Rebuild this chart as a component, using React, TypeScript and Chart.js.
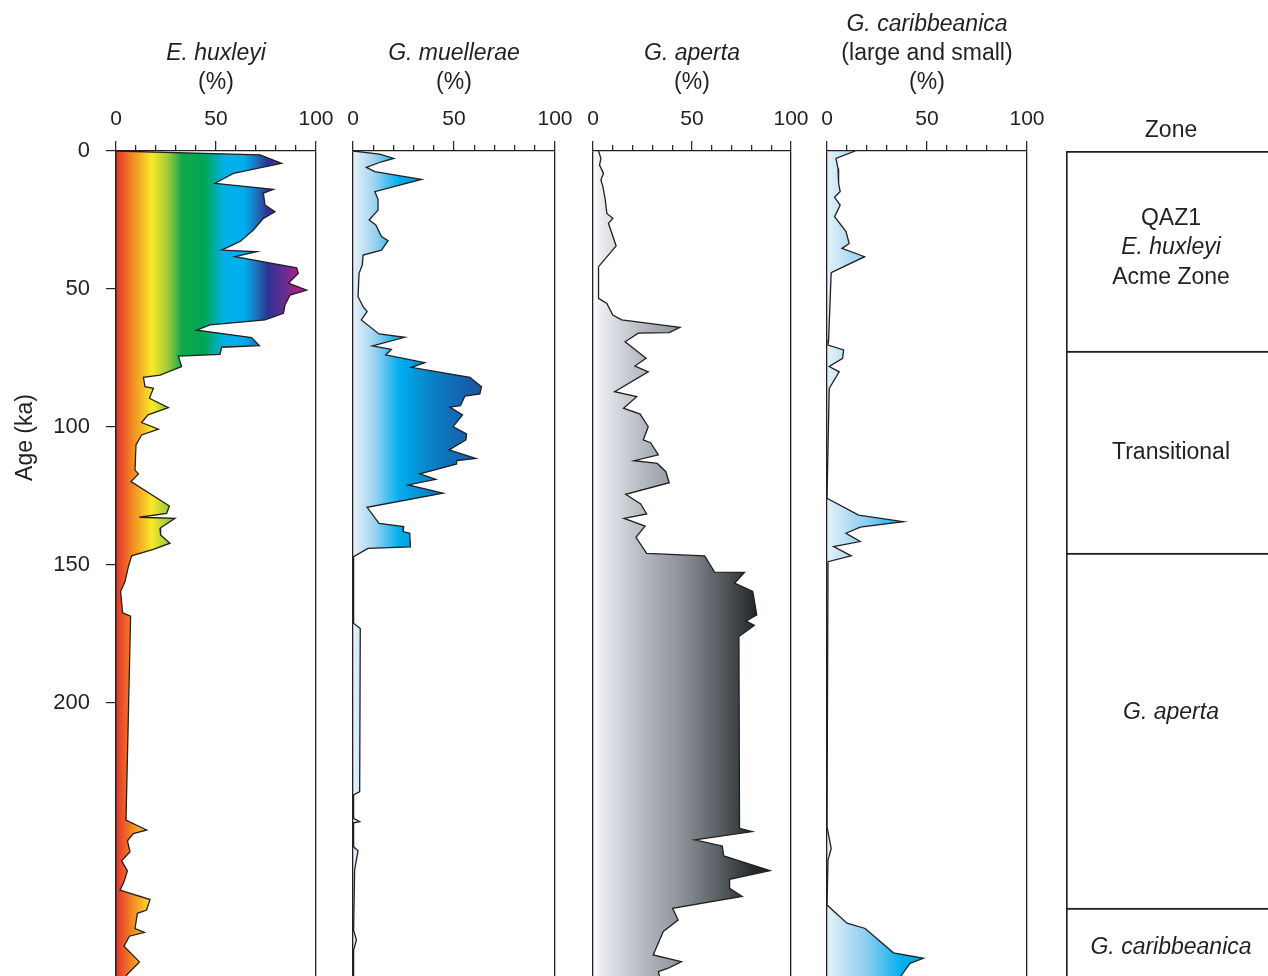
import React, { useEffect, useRef } from 'react';
import { Chart, registerables } from 'chart.js';

Chart.register(...registerables);

const FONT = '"Liberation Sans", Arial, Helvetica, sans-serif';
const INK = '#231f20';

// ---------- axis values ----------
const ageMin = 0;
const ageMax = 300;
const ageTickValues = [0, 50, 100, 150, 200];
const pctMin = 0;
const pctMax = 100;
const pctStep = 10;
const pctLabelValues = [0, 50, 100];

// ---------- E. huxleyi ----------
const huxleyiAge = [0, 1.4, 4.5, 8.1, 11.7, 13.9, 15.3, 19.6, 22, 24.4, 28.6, 32.8, 35.9, 36.5, 38.3, 42.3, 44.3, 47.9, 50.4, 52.2, 55.8, 58.8, 61.2, 63, 64.9, 67.6, 70.5, 71.1, 73.7, 74.3, 78.1, 81.2, 82, 85.4, 86, 89.6, 93, 95.6, 98.4, 100.8, 102.9, 106.5, 115.6, 117, 119.8, 128.6, 131.3, 132.7, 133.1, 136.7, 139.1, 142.1, 144.3, 146.7, 150.6, 156, 159.6, 167.3, 168.5, 242.4, 246, 247.3, 249.9, 253.9, 257.2, 260.8, 264.8, 267.8, 271.2, 275, 276.2, 281.7, 283.1, 284.5, 288.1, 293.8, 298.6, 300];
const huxleyiPct = [0, 72, 82.8, 58.7, 49.5, 78.7, 73.7, 74.5, 79.5, 73.7, 68.7, 62, 52.8, 70.3, 59.5, 90.3, 91.2, 86.2, 95.3, 87, 84.5, 83.7, 74.5, 47, 40.3, 67.8, 71.7, 52.8, 52, 31.2, 32.8, 22, 13.7, 14.5, 18.7, 16.7, 26.2, 16, 12.8, 21.2, 12.8, 10, 9.5, 11.2, 7.5, 26.7, 25.3, 11.7, 29.5, 22, 22.3, 27, 18.7, 7.8, 6.2, 4.5, 2.3, 3.3, 7.3, 5, 15.3, 8.7, 5.7, 7, 2.8, 5.7, 4, 2, 17, 15.3, 10.7, 9.5, 14.2, 6.7, 4, 11.7, 5.3, 4.5];

// ---------- G. muellerae ----------
const muelleraeAge = [0, 1.1, 2.7, 3.9, 5.9, 7.5, 10.3, 14.7, 17.5, 21.4, 25, 26.8, 31, 32.5, 35.9, 37.7, 41.3, 44.3, 52.8, 56.4, 58.2, 61.2, 66.3, 67.5, 70.6, 71.9, 73.9, 76.7, 78.4, 82, 85.4, 88, 88.8, 92.3, 92.8, 95.6, 99.9, 102.5, 104.7, 108.3, 111.4, 112.2, 113.4, 117, 119, 121, 124, 129.1, 134.9, 136.1, 137.9, 138.5, 143.4, 144, 147, 171.1, 173, 232.1, 233.3, 241.8, 243, 243.4, 252.1, 253.5, 260.5, 282.3, 285.9, 289.5, 300];
const muelleraePct = [0, 13.2, 20.2, 14.1, 6.6, 10.8, 33.9, 10.8, 12.4, 12.4, 8, 11.3, 14.1, 17.4, 14.1, 5, 4.6, 3, 2.5, 5, 7, 4.1, 12.9, 25.6, 9.6, 19, 16.2, 35.5, 28.9, 57.9, 63.6, 62.8, 55.4, 53.2, 47.9, 54.2, 49.6, 56.2, 55.9, 47.6, 60.8, 51.3, 51.3, 33.1, 41, 27.3, 44.6, 7, 12.9, 25.1, 24.8, 28.1, 28.4, 7.4, 0.3, 0.3, 3.6, 3.3, 0.3, 0.3, 3.3, 0.3, 0.3, 2.5, 0.8, 0.3, 1.7, 0.3, 0.3];

// ---------- G. aperta ----------
const apertaAge = [0, 2.7, 5.1, 8.1, 10.5, 12.9, 17.7, 22.6, 24.4, 26.2, 34.4, 41.9, 53.4, 55.2, 59.4, 61.2, 63.9, 65.8, 66, 69.1, 75.1, 77.9, 80, 87.2, 89, 93.2, 95.3, 99.9, 104.7, 105.7, 110.1, 112.2, 113.2, 116.2, 120.2, 124.4, 127.9, 131.5, 133.1, 135.9, 140, 145.8, 146.7, 152.6, 152.7, 156.6, 159.6, 168.1, 170.3, 171.9, 175.9, 245.4, 246.6, 249.6, 251.8, 255.4, 260.7, 263.9, 267.1, 270.1, 274.4, 278.6, 282.8, 291.3, 293.7, 296.1, 297.3, 300];
const apertaPct = [2.8, 4, 3.3, 5.3, 4, 5, 6.2, 7, 10, 7.8, 11.7, 2.8, 2.8, 7, 10, 14.5, 43.9, 38.5, 22.9, 16.2, 26.8, 21.2, 27.9, 10.9, 22.1, 15.4, 23.8, 27.9, 25.4, 29.1, 33, 20.7, 32.5, 36.8, 38.5, 16.5, 24.1, 27.1, 15.7, 26.3, 21.7, 27.1, 56.4, 61.4, 76.5, 71.5, 80.7, 82.7, 77.4, 81.5, 73.7, 74, 80.4, 51.4, 65.3, 66, 89.4, 69, 69, 75.3, 40.2, 43, 35.5, 30.4, 44.7, 38, 33, 34];

// ---------- G. caribbeanica ----------
const caribAge = [0, 2.7, 6.3, 11.7, 14.7, 16.8, 19.6, 23.8, 29.2, 33.5, 35.3, 38.3, 44.1, 68.5, 70.3, 72.1, 75.1, 78.1, 80, 86, 125.8, 131.9, 134.3, 136.3, 138.5, 141.5, 143.3, 146.7, 148.8, 244.8, 252.7, 256.9, 273.2, 279.8, 281.7, 290.5, 292.5, 294.3, 298.9, 300];
const caribPct = [14.1, 4.5, 5.5, 5.8, 6.6, 3.8, 6.6, 3.8, 9.5, 11.1, 7.5, 18.8, 2.1, 0.8, 0.5, 8.3, 7.8, 1.1, 6.1, 1.1, 0, 15.8, 38.2, 16.6, 9.5, 16.6, 3.3, 12.1, 0.5, 0, 2.1, 0.5, 0, 10, 19.1, 33.2, 48.2, 41.5, 37, 36];

// ---------- titles ----------
const huxleyiTitle: [string, boolean][] = [['E. huxleyi', true], ['(%)', false]];
const muelleraeTitle: [string, boolean][] = [['G. muellerae', true], ['(%)', false]];
const apertaTitle: [string, boolean][] = [['G. aperta', true], ['(%)', false]];
const caribTitle: [string, boolean][] = [['G. caribbeanica', true], ['(large and small)', false], ['(%)', false]];
const ageTitle = 'Age (ka)';
const ageTitleAge = 103.8;

// ---------- zones ----------
const zoneHeader = 'Zone';
const zoneTops = [0, 72.5, 145.7, 274.3];
const zoneBottoms = [72.5, 145.7, 274.3, 300];
const zoneLabelAges = [35.1, 109.4, 203.6, 288.8];
const zoneLabels: [string, boolean][][] = [
  [['QAZ1', false], ['E. huxleyi', true], ['Acme Zone', false]],
  [['Transitional', false]],
  [['G. aperta', true]],
  [['G. caribbeanica', true]],
];

// ---------- colour ramps ----------
const huxleyiStops: [number, string][] = [
  [0, '#e4322b'], [0.09, '#f39222'], [0.18, '#f8e92a'], [0.26, '#9dca3c'], [0.33, '#10a84f'],
  [0.44, '#00a651'], [0.54, '#00b0e8'], [0.64, '#00aeef'], [0.7, '#1b75bb'], [0.76, '#2e3192'],
  [0.84, '#662d91'], [0.93, '#c41a8c'], [1, '#d4148b'],
];
const muelleraeStops: [number, string][] = [
  [0, '#e6f2f9'], [0.1, '#a3d5f0'], [0.23, '#00aeef'], [0.4, '#0a7fc4'], [0.62, '#1b55a2'], [1, '#1b4595'],
];
const apertaStops: [number, string][] = [
  [0, '#fbfcfd'], [0.06, '#e4e7eb'], [0.24, '#b8bcc3'], [0.45, '#8b9198'], [0.65, '#545b5e'], [0.82, '#232828'], [1, '#1a1d1d'],
];
const caribStops: [number, string][] = [
  [0, '#e4f1f9'], [0.2, '#8ccdef'], [0.38, '#00aeef'], [1, '#0090d0'],
];

// ---------- layout ----------
const CANVAS_H = 1019;
const PLOT_TOP = 151;
const PAD_BOTTOM = 40;
const PAD_RIGHT = 32;
const TITLE_LAST_Y = 83;
const TITLE_STEP = 29;
const TEXT_SIZE = 23;

type Panel = {
  ages: number[];
  pct: number[];
  title: [string, boolean][];
  stops: [number, string][];
  canvasX: number;
  plotW: number;
  showAge: boolean;
};

const panels: Panel[] = [
  { ages: huxleyiAge, pct: huxleyiPct, title: huxleyiTitle, stops: huxleyiStops, canvasX: 0, plotW: 200, showAge: true },
  { ages: muelleraeAge, pct: muelleraePct, title: muelleraeTitle, stops: muelleraeStops, canvasX: 333, plotW: 202, showAge: false },
  { ages: apertaAge, pct: apertaPct, title: apertaTitle, stops: apertaStops, canvasX: 573, plotW: 198, showAge: false },
  { ages: caribAge, pct: caribPct, title: caribTitle, stops: caribStops, canvasX: 807, plotW: 200, showAge: false },
];
const Y_AXIS_W = 116;
const PAD_LEFT = 20;
const canvasWidth = (p: Panel) => (p.showAge ? Y_AXIS_W : PAD_LEFT) + p.plotW + PAD_RIGHT;

const ZONE_X = 1066;
const ZONE_W = 260;

function gradientFor(chart: any, stops: [number, string][]) {
  const area = chart.chartArea;
  if (!area) return 'rgba(0,0,0,0)';
  const xs = chart.scales.x;
  const g = chart.ctx.createLinearGradient(xs.getPixelForValue(pctMin), 0, xs.getPixelForValue(pctMax), 0);
  stops.forEach(([o, c]) => g.addColorStop(o, c));
  return g;
}

function headerPlugin(lines: [string, boolean][], withAgeTitle: boolean) {
  return {
    id: 'headerText',
    afterDraw(chart: any) {
      const { ctx, chartArea, scales } = chart;
      const cx = (chartArea.left + chartArea.right) / 2;
      ctx.save();
      ctx.fillStyle = INK;
      ctx.textAlign = 'center';
      ctx.textBaseline = 'middle';
      const n = lines.length;
      lines.forEach(([text, italic], i) => {
        ctx.font = `${italic ? 'italic ' : ''}${TEXT_SIZE}px ${FONT}`;
        ctx.fillText(text, cx, TITLE_LAST_Y - (n - 1 - i) * TITLE_STEP);
      });
      if (withAgeTitle) {
        const ty = scales.y.getPixelForValue(ageTitleAge);
        ctx.translate(26, ty);
        ctx.rotate(-Math.PI / 2);
        ctx.font = `${TEXT_SIZE}px ${FONT}`;
        ctx.fillText(ageTitle, 0, 0);
      }
      ctx.restore();
    },
  };
}

const isMajor = (c: any) => c.tick && pctLabelValues.includes(c.tick.value);

function makePanel(canvas: HTMLCanvasElement, p: Panel) {
  const data = p.ages.map((a, i) => ({ x: p.pct[i], y: a }));
  const yScale: any = {
    type: 'linear',
    reverse: true,
    min: ageMin,
    max: ageMax,
    display: p.showAge,
    afterBuildTicks: (s: any) => {
      s.ticks = ageTickValues.map((v) => ({ value: v }));
    },
    ticks: { color: INK, padding: 16, font: { family: FONT, size: 22 } },
    grid: { drawOnChartArea: false, tickLength: 10, color: INK, lineWidth: 1.2 },
    border: { display: true, color: INK, width: 1.3, z: 1 },
    title: { display: false },
  };
  if (p.showAge) {
    yScale.afterFit = (s: any) => {
      s.width = Y_AXIS_W;
    };
  }
  return new Chart(canvas, {
    type: 'line',
    data: {
      datasets: [
        {
          data,
          borderColor: INK,
          borderWidth: 1.3,
          pointRadius: 0,
          tension: 0,
          fill: 'origin',
          backgroundColor: (c: any) => gradientFor(c.chart, p.stops),
        } as any,
      ],
    },
    options: {
      indexAxis: 'y',
      responsive: false,
      animation: false,
      devicePixelRatio: 1,
      events: [],
      layout: { padding: { left: p.showAge ? 0 : PAD_LEFT, right: PAD_RIGHT, top: 0, bottom: PAD_BOTTOM } },
      plugins: { legend: { display: false }, tooltip: { enabled: false }, title: { display: false } },
      scales: {
        x: {
          type: 'linear',
          position: 'top',
          min: pctMin,
          max: pctMax,
          afterFit: (s: any) => {
            s.height = PLOT_TOP;
          },
          ticks: {
            stepSize: pctStep,
            autoSkip: false,
            maxRotation: 0,
            minRotation: 0,
            padding: 9,
            color: INK,
            font: { family: FONT, size: 21 },
            callback: (v: any) => (pctLabelValues.includes(Number(v)) ? String(v) : ''),
          },
          grid: {
            z: 1,
            drawOnChartArea: true,
            color: (c: any) => (c.tick && (c.tick.value === pctMin || c.tick.value === pctMax) ? INK : 'rgba(0,0,0,0)'),
            lineWidth: 1.3,
            tickLength: 10,
            tickColor: INK,
            tickWidth: 1.2,
            tickBorderDash: (c: any) => (isMajor(c) ? [] : [6, 4]),
            tickBorderDashOffset: (c: any) => (isMajor(c) ? 0 : 6),
          },
          border: { display: true, color: INK, width: 1.3, z: 1 },
        } as any,
        y: yScale,
      },
    } as any,
    plugins: [headerPlugin(p.title, p.showAge)],
  });
}

const zoneTextPlugin = {
  id: 'zoneText',
  afterDraw(chart: any) {
    const { ctx, chartArea, scales } = chart;
    const cx = chartArea.left + 105;
    ctx.save();
    ctx.fillStyle = INK;
    ctx.textAlign = 'center';
    ctx.textBaseline = 'middle';
    ctx.font = `${TEXT_SIZE}px ${FONT}`;
    ctx.fillText(zoneHeader, cx, 131);
    zoneLabels.forEach((lines, zi) => {
      const yc = scales.y.getPixelForValue(zoneLabelAges[zi]);
      const n = lines.length;
      lines.forEach(([text, italic], i) => {
        ctx.font = `${italic ? 'italic ' : ''}${TEXT_SIZE}px ${FONT}`;
        ctx.fillText(text, cx, yc + (i - (n - 1) / 2) * 29.5);
      });
    });
    ctx.restore();
  },
};

function makeZones(canvas: HTMLCanvasElement) {
  return new Chart(canvas, {
    type: 'bar',
    data: {
      labels: [zoneHeader],
      datasets: zoneTops.map((t, i) => ({
        data: [[t, zoneBottoms[i]]],
        backgroundColor: 'rgba(255,255,255,0)',
        borderColor: INK,
        borderWidth: { top: 1.3, left: 1.3, right: 0, bottom: 0 },
        borderSkipped: false,
        grouped: false,
        barPercentage: 1,
        categoryPercentage: 1,
      })) as any,
    },
    options: {
      responsive: false,
      animation: false,
      devicePixelRatio: 1,
      events: [],
      layout: { padding: { left: 0, right: 0, top: PLOT_TOP, bottom: PAD_BOTTOM } },
      plugins: { legend: { display: false }, tooltip: { enabled: false } },
      scales: {
        x: { type: 'category', display: false, offset: true },
        y: { type: 'linear', min: ageMin, max: ageMax, reverse: true, display: false },
      },
    } as any,
    plugins: [zoneTextPlugin],
  });
}

export default function App() {
  const refs = useRef<(HTMLCanvasElement | null)[]>([]);
  useEffect(() => {
    const charts: Chart[] = [];
    panels.forEach((p, i) => {
      const c = refs.current[i];
      if (c) charts.push(makePanel(c, p));
    });
    const z = refs.current[panels.length];
    if (z) charts.push(makeZones(z));
    return () => charts.forEach((c) => c.destroy());
  }, []);

  return (
    <div style={{ position: 'absolute', left: 0, top: 0, width: 1268, height: 976, overflow: 'hidden', background: '#ffffff' }}>
      {panels.map((p, i) => (
        <canvas
          key={i}
          ref={(el) => {
            refs.current[i] = el;
          }}
          width={canvasWidth(p)}
          height={CANVAS_H}
          style={{ position: 'absolute', left: p.canvasX, top: 0, width: canvasWidth(p), height: CANVAS_H }}
        />
      ))}
      <canvas
        ref={(el) => {
          refs.current[panels.length] = el;
        }}
        width={ZONE_W}
        height={CANVAS_H}
        style={{ position: 'absolute', left: ZONE_X, top: 0, width: ZONE_W, height: CANVAS_H }}
      />
    </div>
  );
}
